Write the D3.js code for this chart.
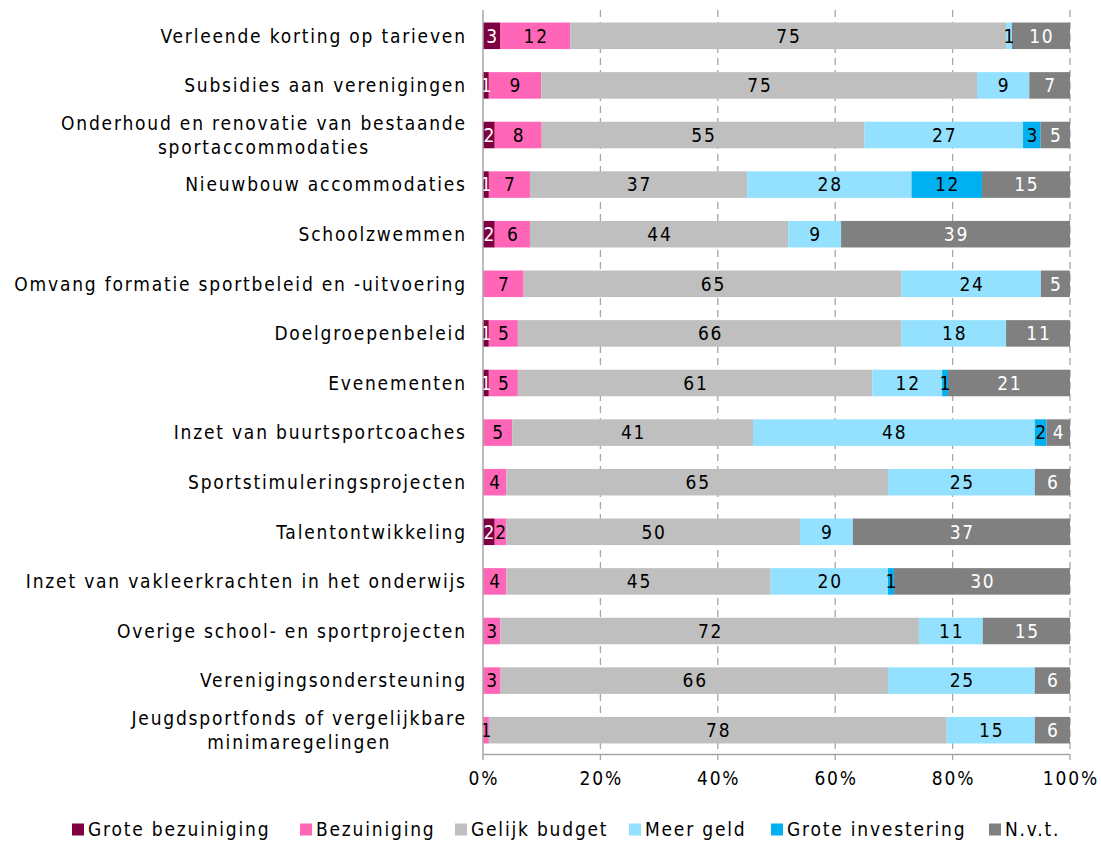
<!DOCTYPE html>
<html><head><meta charset="utf-8">
<script src="https://cdn.jsdelivr.net/npm/d3@7"></script>
<style>body{margin:0;background:#fff}svg{display:block}text{font-family:"DejaVu Sans Condensed","DejaVu Sans",sans-serif;letter-spacing:1.8px}</style>
</head><body>
<svg id="c" width="1101" height="841"></svg>
<script>
const categories = [
  "Verleende korting op tarieven",
  "Subsidies aan verenigingen",
  "Onderhoud en renovatie van bestaande|sportaccommodaties",
  "Nieuwbouw accommodaties",
  "Schoolzwemmen",
  "Omvang formatie sportbeleid en -uitvoering",
  "Doelgroepenbeleid",
  "Evenementen",
  "Inzet van buurtsportcoaches",
  "Sportstimuleringsprojecten",
  "Talentontwikkeling",
  "Inzet van vakleerkrachten in het onderwijs",
  "Overige school- en sportprojecten",
  "Verenigingsondersteuning",
  "Jeugdsportfonds of vergelijkbare|minimaregelingen"
];
const seriesNames = ["Grote bezuiniging","Bezuiniging","Gelijk budget","Meer geld","Grote investering","N.v.t."];
const groteBezuiniging = [3,1,2,1,2,0,1,1,0,0,2,0,0,0,0];
const bezuiniging      = [12,9,8,7,6,7,5,5,5,4,2,4,3,3,1];
const gelijkBudget     = [75,75,55,37,44,65,66,61,41,65,50,45,72,66,78];
const meerGeld         = [1,9,27,28,9,24,18,12,48,25,9,20,11,25,15];
const groteInvestering = [0,0,3,12,0,0,0,1,2,0,0,1,0,0,0];
const nvt              = [10,7,5,15,39,5,11,21,4,6,37,30,15,6,6];
const tickValues = [0,0.2,0.4,0.6,0.8,1];
const colors = ["#7f0041","#ff66b8","#bfbfbf","#93e0ff","#00b0f0","#808080"];
const labelColors = ["#fff","#000","#000","#000","#000","#fff"];

const seriesArrays = [groteBezuiniging,bezuiniging,gelijkBudget,meerGeld,groteInvestering,nvt];
const rows = categories.map((c,i)=>{const o={cat:c};seriesNames.forEach((s,j)=>o[s]=seriesArrays[j][i]);return o;});

const FS = 19;
const svg = d3.select("#c");
const x = d3.scaleLinear().domain([0,1]).range([483,1070]);
const y = d3.scaleBand().domain(categories).range([11,755]).paddingInner(0.465).paddingOuter(0.2325);
const stack = d3.stack().keys(seriesNames).offset(d3.stackOffsetExpand);
const stacked = stack(rows);

// grid
svg.append("g").selectAll("line").data(tickValues.slice(1)).join("line")
  .attr("x1",d=>x(d)).attr("x2",d=>x(d)).attr("y1",10).attr("y2",760)
  .attr("stroke","#a6a6a6").attr("stroke-width",1.3).attr("stroke-dasharray","7,5");

// bars
const g = svg.append("g");
stacked.forEach((s,j)=>{
  g.append("g").selectAll("rect").data(s).join("rect")
    .attr("x",d=>x(d[0])).attr("width",d=>x(d[1])-x(d[0]))
    .attr("y",d=>y(d.data.cat)).attr("height",y.bandwidth())
    .attr("fill",colors[j]);
});
// labels (letter-spacing trails the last glyph, shift by half)
stacked.forEach((s,j)=>{
  g.append("g").selectAll("text").data(s.filter(d=>d.data[seriesNames[j]]>0)).join("text")
    .attr("x",d=>(x(d[0])+x(d[1]))/2+0.9).attr("y",d=>y(d.data.cat)+y.bandwidth()/2)
    .attr("dy","0.36em").attr("text-anchor","middle")
    .attr("font-size",FS).attr("fill",labelColors[j])
    .text(d=>d.data[seriesNames[j]]);
});

// axes lines
svg.append("line").attr("x1",483).attr("x2",483).attr("y1",10).attr("y2",755).attr("stroke","#a6a6a6").attr("stroke-width",1.5);
svg.append("line").attr("x1",483).attr("x2",1070).attr("y1",754.5).attr("y2",754.5).attr("stroke","#a6a6a6").attr("stroke-width",1.5);
svg.append("line").attr("x1",483).attr("x2",483).attr("y1",754).attr("y2",760).attr("stroke","#a6a6a6").attr("stroke-width",1.5);

// x tick labels
svg.append("g").selectAll("text").data(tickValues).join("text")
  .attr("x",d=>x(d)+0.9).attr("y",785).attr("text-anchor","middle").attr("font-size",FS).attr("fill","#000")
  .text(d=>d3.format(".0%")(d));

// category labels
const cl = svg.append("g");
categories.forEach(c=>{
  const lines = c.split("|");
  const cy = y(c)+y.bandwidth()/2;
  if(lines.length===1){
    cl.append("text").attr("x",466.8).attr("y",cy).attr("dy","0.36em").attr("text-anchor","end")
      .attr("font-size",FS).text(lines[0]);
  } else {
    const t = cl.append("g");
    const texts = lines.map((l,k)=>t.append("text").attr("y",cy+(k-(lines.length-1)/2)*24).attr("dy","0.36em")
      .attr("text-anchor","middle").attr("font-size",FS).text(l));
    const w = d3.max(texts,tt=>tt.node().getComputedTextLength());
    texts.forEach(tt=>tt.attr("x",466.8-w/2));
  }
});

// legend
const lg = svg.append("g");
const legendX = [72,300,455,629,771,989];
seriesNames.forEach((s,j)=>{
  lg.append("rect").attr("x",legendX[j]).attr("y",823.5).attr("width",12).attr("height",12).attr("fill",colors[j]);
  lg.append("text").attr("x",legendX[j]+16).attr("y",829.5).attr("dy","0.36em").attr("font-size",FS).text(s);
});
</script>
</body></html>
